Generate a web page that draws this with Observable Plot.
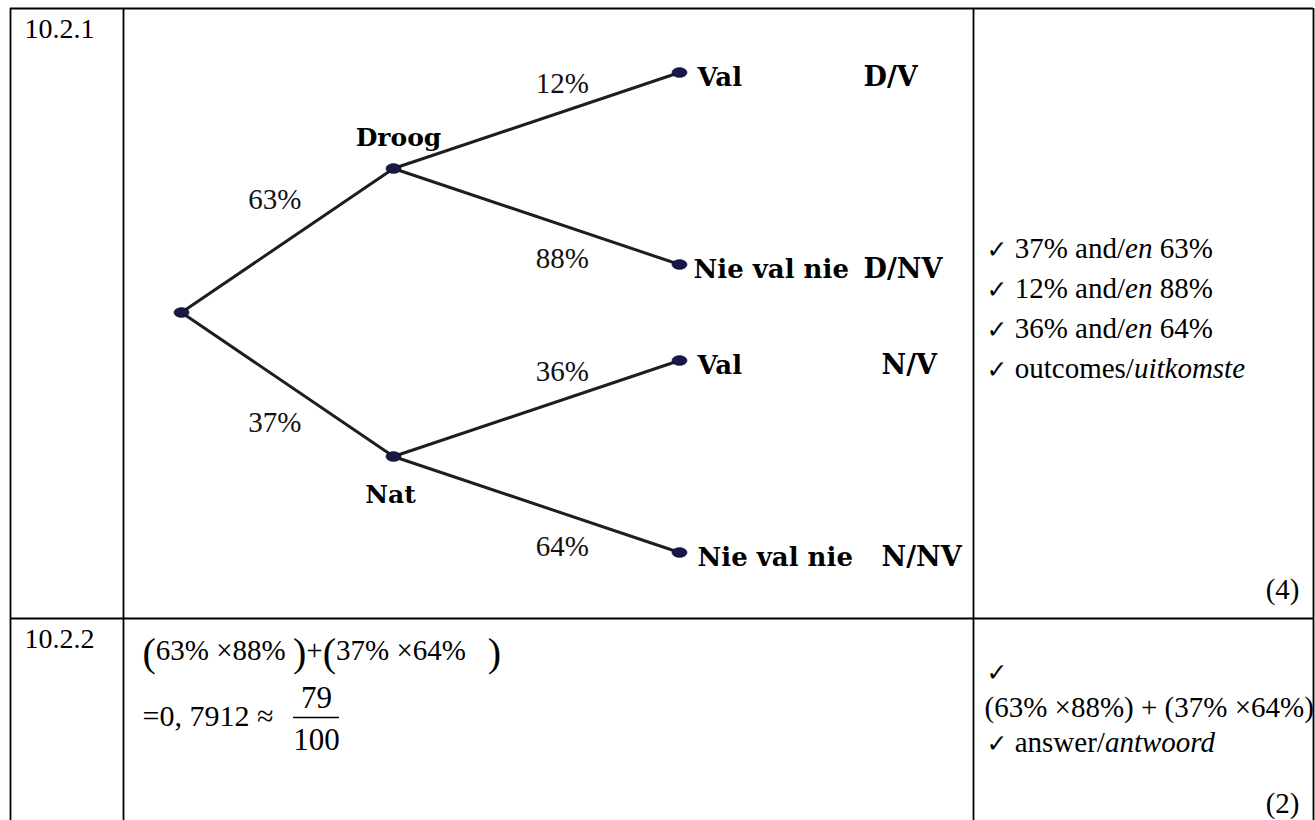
<!DOCTYPE html>
<html>
<head>
<meta charset="utf-8">
<script src="https://cdn.jsdelivr.net/npm/d3@7"></script>
<script src="https://cdn.jsdelivr.net/npm/@observablehq/plot@0.6"></script>
<style>
  html, body { margin: 0; padding: 0; background: #ffffff; }
  #chart { width: 1315px; height: 820px; overflow: hidden; }
</style>
</head>
<body>
<div id="chart"></div>
<script>
// ---------------- data ----------------
const questionNumbers = ["10.2.1", "10.2.2"];
const weather = ["Droog", "Nat"];
const weatherPct = [63, 37];
const rainOutcomes = ["Val", "Nie val nie"];
const rainPctDroog = [12, 88];
const rainPctNat = [36, 64];
const outcomeCodes = ["D/V", "D/NV", "N/V", "N/NV"];
const markingPoints1 = ["✓ 37% and/_en_ 63%", "✓ 12% and/_en_ 88%", "✓ 36% and/_en_ 64%", "✓ outcomes/_uitkomste_"];
const markingPoints2 = ["✓", "(63% ×88%) + (37% ×64%)", "✓ answer/_antwoord_"];
const marksTotal = ["(4)", "(2)"];

// ---------------- derived values ----------------
const pDryNoRain = weatherPct[0] / 100 * rainPctDroog[1] / 100;
const pWetNoRain = weatherPct[1] / 100 * rainPctNat[1] / 100;
const answerValue = pDryNoRain + pWetNoRain;                 // 0.7912
const answerDigits = answerValue.toFixed(4).split(".");      // ["0", "7912"]
const answerFraction = [Math.round(answerValue * 100), 100];
const answerExpression = `(${weatherPct[0]}% ×${rainPctDroog[1]}%\u00A0)+(${weatherPct[1]}% ×${rainPctNat[1]}%\u2002\u00A0)`;

// ---------------- layout ----------------
const W = 1315, H = 820;
const T = {left: 10, col1: 123, col2: 973, right: 1313, top: 8, row1: 618};

// tree built from the data
const treeData = {
  name: "",
  children: weather.map((w, i) => ({
    name: w, pct: weatherPct[i],
    children: rainOutcomes.map((r, j) => ({
      name: r, pct: (i === 0 ? rainPctDroog : rainPctNat)[j], code: outcomeCodes[i * 2 + j]
    }))
  }))
};
const root = d3.hierarchy(treeData);
d3.cluster().size([1, 1]).separation((a, b) => (a.parent === b.parent ? 2 : 1))(root);
const leafExtent = d3.extent(root.leaves(), d => d.x);
const treeY = d3.scaleLinear(leafExtent, [72, 552]);
const treeX = d3.scaleLinear([0, 1, 2], [181, 393, 679]);

const nodes = root.descendants().map(d => ({
  name: d.data.name, code: d.data.code, depth: d.depth,
  parent: d.parent ? d.parent.data.name : null,
  x: treeX(d.depth), y: treeY(d.x)
}));
const labelT = {1: 0.44, 2: 0.59};
const labelUp = {1: 40, 2: 19};
const labelDown = {1: 56, 2: 43};
const links = root.links().map(l => {
  const x1 = treeX(l.source.depth), y1 = treeY(l.source.x);
  const x2 = treeX(l.target.depth), y2 = treeY(l.target.x);
  const lvl = l.target.depth;
  const upper = l.source.children.indexOf(l.target) === 0;
  const t = labelT[lvl];
  return {
    x1, y1, x2, y2, pct: l.target.data.pct + "%",
    lx: x1 + t * (x2 - x1),
    ly: y1 + t * (y2 - y1) + (upper ? -labelUp[lvl] : labelDown[lvl])
  };
});
const midNodes = nodes.filter(d => d.depth === 1).map((d, i) => ({
  ...d, tx: d.x + (i === 0 ? 5 : -3), ty: d.y + (i === 0 ? -23 : 46)
}));
const leafNodes = nodes.filter(d => d.depth === 2).map((d, i) => ({
  ...d, tx: d.x + (i === 1 ? 14 : 18), ty: d.y + 13, cx: d.parent === weather[0] ? 863 : 881
}));

// ellipse symbol for tree nodes
const ellipse = {
  draw(ctx) {
    const rx = 7.4, ry = 4.8, k = 0.5523;
    ctx.moveTo(rx, 0);
    ctx.bezierCurveTo(rx, ry * k, rx * k, ry, 0, ry);
    ctx.bezierCurveTo(-rx * k, ry, -rx, ry * k, -rx, 0);
    ctx.bezierCurveTo(-rx, -ry * k, -rx * k, -ry, 0, -ry);
    ctx.bezierCurveTo(rx * k, -ry, rx, -ry * k, rx, 0);
    ctx.closePath();
  }
};

// table texts
const rowLabels = questionNumbers.map((q, i) => ({text: q, x: 24, y: (i === 0 ? T.top : T.row1) + 29}));
const right1Y = [257, 297, 337, 377];
const right2Y = [680, 716, 751];
const rightTexts = [
  ...markingPoints1.map((t, i) => ({text: t, x: 986, y: right1Y[i]})),
  ...markingPoints2.map((t, i) => ({text: t, x: i === 1 ? 984 : 986, y: right2Y[i]}))
];
const totals = marksTotal.map((t, i) => ({text: t, x: 1299, y: i === 0 ? 598 : 812}));
const fraction = [
  {text: String(answerFraction[0]), x: 316, y: 707},
  {text: String(answerFraction[1]), x: 316, y: 749}
];
const decimalLine = `=${answerDigits[0]},\u00A0${answerDigits[1]}\u00A0≈`;

const serif = "Liberation Serif";
const boldSerif = "DejaVu Serif";

const plot = Plot.plot({
  width: W, height: H, margin: 0,
  x: {domain: [0, W], range: [0, W], axis: null},
  y: {domain: [0, H], range: [0, H], axis: null},
  style: {background: "#ffffff", overflow: "hidden"},
  marks: [
    // table grid
    Plot.ruleX([T.left, T.col1, T.col2, T.right], {x: d => d, y1: T.top, y2: H + 5, stroke: "#000", strokeWidth: 1.8}),
    Plot.ruleY([T.top, T.row1], {y: d => d, x1: T.left, x2: T.right, stroke: "#000", strokeWidth: 1.8}),
    // tree
    Plot.link(links, {x1: "x1", y1: "y1", x2: "x2", y2: "y2", stroke: "#1e1e1e", strokeWidth: 3, strokeLinecap: "round"}),
    Plot.dot(nodes, {x: "x", y: "y", symbol: ellipse, fill: "#17174a", stroke: "#0b0b25", strokeWidth: 0.8}),
    Plot.text(links, {x: "lx", y: "ly", text: "pct", fontFamily: serif, fontSize: 29, textAnchor: "middle", lineAnchor: "bottom", fill: "#111"}),
    Plot.text(midNodes, {x: "tx", y: "ty", text: "name", fontFamily: boldSerif, fontWeight: "bold", fontSize: 25, textAnchor: "middle", lineAnchor: "bottom", fill: "#000"}),
    Plot.text(leafNodes, {x: "tx", y: "ty", text: "name", fontFamily: boldSerif, fontWeight: "bold", fontSize: 26, textAnchor: "start", lineAnchor: "bottom", fill: "#000"}),
    Plot.text(leafNodes, {x: "cx", y: "ty", text: "code", fontFamily: boldSerif, fontWeight: "bold", fontSize: 27, textAnchor: "start", lineAnchor: "bottom", fill: "#000"}),
    // table texts
    Plot.text(rowLabels, {x: "x", y: "y", text: "text", fontFamily: serif, fontSize: 28, textAnchor: "start", lineAnchor: "bottom", fill: "#000"}),
    Plot.text(rightTexts, {x: "x", y: "y", text: "text", fontFamily: serif, fontSize: 29, textAnchor: "start", lineAnchor: "bottom", fill: "#000"}),
    Plot.text(totals, {x: "x", y: "y", text: "text", fontFamily: serif, fontSize: 29, textAnchor: "end", lineAnchor: "bottom", fill: "#000"}),
    // 10.2.2 working
    Plot.text([{text: answerExpression, x: 142, y: 659}], {x: "x", y: "y", text: "text", fontFamily: serif, fontSize: 29, textAnchor: "start", lineAnchor: "bottom", fill: "#000"}),
    Plot.text([{text: decimalLine, x: 142, y: 725}], {x: "x", y: "y", text: "text", fontFamily: serif, fontSize: 30, textAnchor: "start", lineAnchor: "bottom", fill: "#000"}),
    Plot.text(fraction, {x: "x", y: "y", text: "text", fontFamily: serif, fontSize: 31, textAnchor: "middle", lineAnchor: "bottom", fill: "#000"}),
    Plot.ruleY([{y: 717, x1: 293, x2: 339}], {y: "y", x1: "x1", x2: "x2", stroke: "#000", strokeWidth: 1.3})
  ]
});

// rich text: check marks and italic segments
const NS = "http://www.w3.org/2000/svg";
plot.querySelectorAll("text").forEach(t => {
  const s = t.textContent;
  if (!/[✓_]/.test(s) || t.querySelector("tspan")) return;
  t.textContent = "";
  const parts = s.split(/(✓|_[^_]+_)/).filter(p => p !== "");
  for (const p of parts) {
    const ts = document.createElementNS(NS, "tspan");
    if (p === "✓") {
      ts.setAttribute("font-family", "DejaVu Sans");
      ts.setAttribute("font-size", "25");
      ts.setAttribute("font-weight", "bold");
      ts.textContent = p;
    } else if (p.startsWith("_")) {
      ts.setAttribute("font-style", "italic");
      ts.textContent = p.slice(1, -1);
    } else {
      ts.textContent = p;
    }
    t.appendChild(ts);
  }
});
// taller parentheses in the working expression of 10.2.2
plot.querySelectorAll("text").forEach(t => {
  const s = t.textContent;
  if (s !== answerExpression) return;
  t.textContent = "";
  const parts = s.split(/([()])/).filter(p => p !== "");
  let prevParen = false;
  for (const p of parts) {
    const ts = document.createElementNS(NS, "tspan");
    ts.textContent = p;
    const isParen = p === "(" || p === ")";
    if (isParen) ts.setAttribute("font-size", "40");
    if (isParen && !prevParen) ts.setAttribute("dy", "6");
    if (!isParen && prevParen) ts.setAttribute("dy", "-6");
    prevParen = isParen;
    t.appendChild(ts);
  }
});

document.getElementById("chart").appendChild(plot);
</script>
</body>
</html>
